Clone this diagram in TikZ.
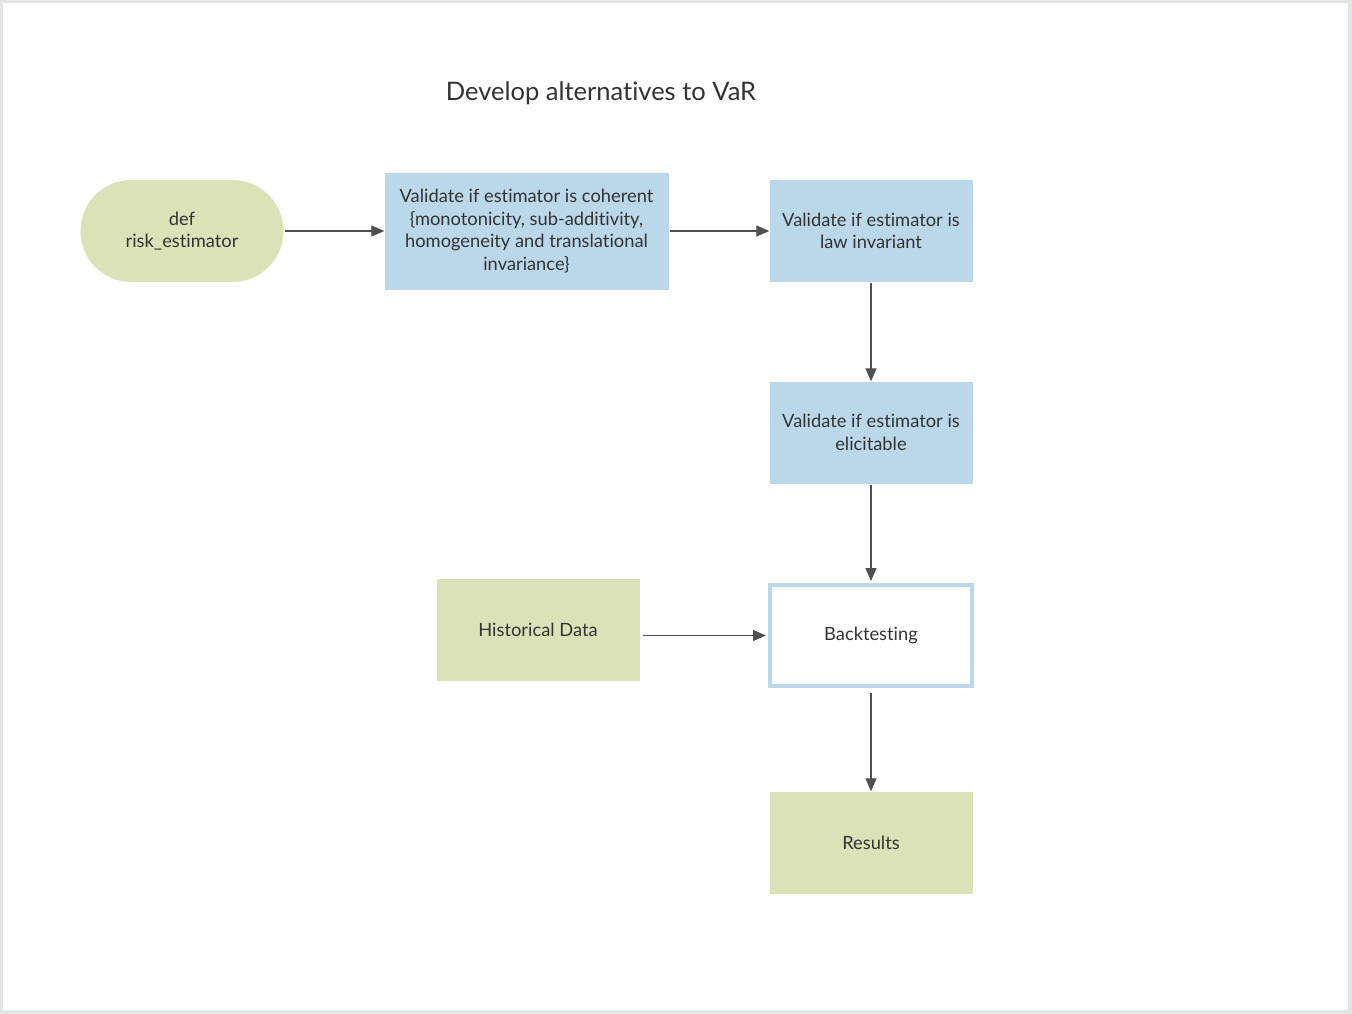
\documentclass[tikz,border=0pt]{standalone}
\usepackage{fontspec}
\setmainfont{Lato}[Ligatures={NoCommon}]
\usetikzlibrary{arrows.meta,shapes.misc}
\definecolor{boxblue}{HTML}{BBD7EA}
\definecolor{boxgreen}{HTML}{DCE2B8}
\definecolor{frame}{HTML}{E3E4E6}
\definecolor{txt}{HTML}{333333}
\definecolor{arr}{HTML}{505050}
\tikzset{
  base/.style={font=\fontsize{18.3}{22.5}\selectfont, text=txt, align=center, inner sep=0pt},
  bluebox/.style={base, fill=boxblue, minimum width=203pt, minimum height=102pt},
  greenbox/.style={base, fill=boxgreen, minimum width=203pt, minimum height=102pt},
  conn/.style={draw=arr, line width=1.3pt, -{Triangle[length=13pt,width=11pt]}},
}
\begin{document}
\begin{tikzpicture}[x=1pt,y=-1pt]
\useasboundingbox (0,0) rectangle (1352,1014);
\fill[frame] (0,0) rectangle (1352,1014);
\fill[white] (3,3) rectangle (1348,1010);
\node[base, font=\fontsize{25.5}{30}\selectfont] (title) at (601,93) {Develop alternatives to VaR};
\node[base, fill=boxgreen, rounded rectangle, minimum width=203pt, minimum height=102pt] (def) at (182,231) {def\\risk\_estimator};
\node[bluebox, minimum width=284pt, minimum height=117pt] (coh) at (526.5,231) {Validate if estimator is coherent\\\{monotonicity, sub-additivity,\\homogeneity and translational\\invariance\}};
\node[bluebox] (law) at (871,231) {Validate if estimator is\\law invariant};
\node[bluebox] (eli) at (871,432.5) {Validate if estimator is\\elicitable};
\node[base, fill=white, draw=boxblue, line width=4pt, minimum width=202pt, minimum height=101pt] (back) at (871,635.5) {Backtesting};
\node[greenbox] (hist) at (538,630) {Historical Data};
\node[greenbox] (res) at (871,842.5) {Results};
\coordinate (hs) at ([xshift=3pt]hist.east |- back.west);
\draw[conn] ([xshift=1pt]def.east) -- (coh.west);
\draw[conn] ([xshift=1pt]coh.east) -- (law.west);
\draw[conn] ([yshift=-1pt]law.south) -- (eli.north);
\draw[conn] ([yshift=-1pt]eli.south) -- ([yshift=2pt]back.north);
\draw[conn] (hs) -- ([xshift=-2pt]back.west);
\draw[conn] ([yshift=-5pt]back.south) -- (res.north);
\end{tikzpicture}
\end{document}
